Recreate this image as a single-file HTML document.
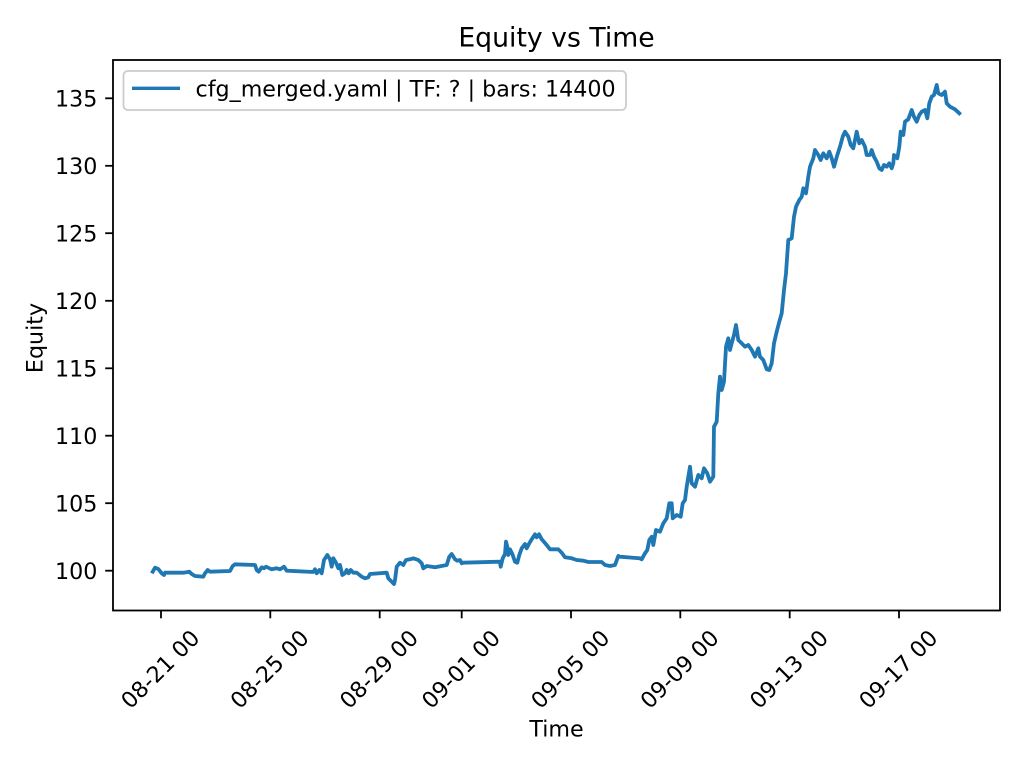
<!DOCTYPE html>
<html>
<head>
<meta charset="utf-8">
<style>
html,body{margin:0;padding:0;background:#fff;}
svg{display:block;}
text{font-family:"DejaVu Sans","Liberation Sans",sans-serif;fill:#000;}
</style>
</head>
<body>
<svg width="1024" height="768" viewBox="0 0 1024 768" xmlns="http://www.w3.org/2000/svg">
<rect x="0" y="0" width="1024" height="768" fill="#fff"/>

<!-- series -->
<polyline fill="none" stroke="#1f77b4" stroke-width="3.8" stroke-linejoin="round" stroke-linecap="square" points="
152.7,571.7 155,567.7 158.3,569 161.7,573.3 164,575 165,572.7 183.3,572.7 189.3,571.7 191.7,574 195,576 203.3,576.7 205,573.3 207.7,570 210,571.7 230,571 232.7,566 235,564.3 255,565 256.7,570 258.7,571.7 261.7,567.3 264,568.3 266,566.7 271.7,569.3 276.7,568.3 280,569.3 284,566.7 286.7,570.7 313.3,572 315,569.3 316.7,573.3 319.3,570 321.7,573.3 324,560 327.3,555 330,559.3 331.7,566.7 333.3,558.3 336,562.7 338.3,568.3 340,565 342.3,575 345,573.3 346.7,570 348.7,573.3 350.7,570 353.3,572.7 356.7,572.7 361.7,576.7 365,578.3 368.3,577.3 370,574 386.7,572.7 388.3,578.3 391.7,581.7 394,584 395,580 396.7,566.7 400,562.7 403.3,565 406,560 410,559.3 413.3,558.3 418.3,560 421.7,563.3 423.3,568.3 426.7,566 435,567.3 446.7,565 449.3,556.7 451.7,554 455,559.3 457.3,560.7 460,560 461.7,563.3 463.3,562.7 500,561.7 500.7,566.7 502.7,558.3 505,554 506,541.7 507.3,546.7 508.3,555 510,549.3 512.7,555 515,561.7 517.3,562.7 519.3,555 521.7,548.3 525,544 526.7,548.3 529.3,543.3 531.7,539.3 535,534.3 536.7,537.3 539,534.3 541.7,539.3 546.7,545 550,549.3 558.3,549.3 561.7,552.7 565,557.3 571.7,558.3 576.7,560 583.3,560.7 588.3,562 601.7,562 605,565 610,566 615,565 618.3,556 620,556.7 640,558.3 641.7,559.3 645,553.3 647.3,550 649.3,540 651.7,536.7 653.3,545 656,530 660,531.7 663.3,523.3 666.7,518.3 669.3,503.3 671.7,503.3 672.7,518.3 676.7,515 680.7,516.7 682.7,503.3 685,500 686.7,486.7 690,466.7 691.7,483.3 695,486.7 698.3,475 701.7,478.3 704,468.3 707.3,473.3 710,481.7 713.3,476.7 714,426.7 716.7,421.7 718.3,393.3 720,376.7 721.7,390 724,381.7 726,346.7 728.3,338.3 730,350 731.7,343.3 734,335 736,325 738.3,340 741.7,343.3 745,346.7 748.3,345 751.7,350 755,356.7 758.3,348.3 760,356.7 763.3,360 766.7,369.3 769.3,370 771.7,363.3 774,343.3 776.7,331.7 779.3,321.7 781.7,313.3 784,290 786,273.3 788.3,240 791.7,238.3 794,216.7 796,206.7 799.3,200 801.7,196.7 803.3,188.3 806,193.3 808.3,176.7 810,166.7 813.3,158.3 815,150 818.3,155 820.7,160 823.3,153.3 826.7,158.3 829.3,151.7 831.7,158.3 834,166.7 837.3,155 840,146.7 842.7,136.7 845,131.7 848.3,136.7 850.7,145 853.3,148.3 856.7,131.7 859.3,143.3 861.7,140 865,146.7 866.7,155 870,155 871.7,150 874,156.7 876.7,161.7 879.3,168.3 881.7,170 884,165 886.7,166.7 889.3,163.3 891.7,168.3 893.3,163.3 894,155 897.3,158.3 899.3,146.7 900.7,131.7 903.3,135 905,121.7 908.3,119.3 911.7,110 914,116.7 916.7,121.7 919.3,115 921.7,111.7 925,110 927.3,118.3 929.3,103.3 931.7,96.7 934,95 936.7,85 938.3,93.3 941.7,95 945,91.7 946.7,103.3 950,106.7 955,109.3 959.3,113.3"/>

<!-- axes frame -->
<rect x="113" y="60" width="887" height="550.5" fill="none" stroke="#000" stroke-width="1.8"/>

<!-- y ticks -->
<g stroke="#000" stroke-width="1.8">
<line x1="105.2" y1="570.7" x2="113" y2="570.7"/>
<line x1="105.2" y1="503.2" x2="113" y2="503.2"/>
<line x1="105.2" y1="435.7" x2="113" y2="435.7"/>
<line x1="105.2" y1="368.3" x2="113" y2="368.3"/>
<line x1="105.2" y1="300.8" x2="113" y2="300.8"/>
<line x1="105.2" y1="233.2" x2="113" y2="233.2"/>
<line x1="105.2" y1="165.8" x2="113" y2="165.8"/>
<line x1="105.2" y1="98.3" x2="113" y2="98.3"/>
</g>
<g font-size="22.2" text-anchor="end">
<text x="97.4" y="578.8">100</text>
<text x="97.4" y="511.3">105</text>
<text x="97.4" y="443.8">110</text>
<text x="97.4" y="376.4">115</text>
<text x="97.4" y="308.9">120</text>
<text x="97.4" y="241.3">125</text>
<text x="97.4" y="173.9">130</text>
<text x="97.4" y="106.4">135</text>
</g>

<!-- x ticks -->
<g stroke="#000" stroke-width="1.8">
<line x1="161" y1="610.5" x2="161" y2="618.3"/>
<line x1="270.3" y1="610.5" x2="270.3" y2="618.3"/>
<line x1="379.7" y1="610.5" x2="379.7" y2="618.3"/>
<line x1="461.7" y1="610.5" x2="461.7" y2="618.3"/>
<line x1="571" y1="610.5" x2="571" y2="618.3"/>
<line x1="680.3" y1="610.5" x2="680.3" y2="618.3"/>
<line x1="789.7" y1="610.5" x2="789.7" y2="618.3"/>
<line x1="899" y1="610.5" x2="899" y2="618.3"/>
</g>
<g font-size="22.2" text-anchor="middle">
<text transform="translate(160,669) rotate(-45)" dy="8">08-21 00</text>
<text transform="translate(269.3,669) rotate(-45)" dy="8">08-25 00</text>
<text transform="translate(378.7,669) rotate(-45)" dy="8">08-29 00</text>
<text transform="translate(460.7,669) rotate(-45)" dy="8">09-01 00</text>
<text transform="translate(570,669) rotate(-45)" dy="8">09-05 00</text>
<text transform="translate(679.3,669) rotate(-45)" dy="8">09-09 00</text>
<text transform="translate(788.7,669) rotate(-45)" dy="8">09-13 00</text>
<text transform="translate(898,669) rotate(-45)" dy="8">09-17 00</text>
</g>

<!-- labels -->
<text x="556.5" y="46.7" font-size="26.7" text-anchor="middle">Equity vs Time</text>
<text x="556.5" y="736.7" font-size="22.2" text-anchor="middle">Time</text>
<text transform="translate(42.5,338) rotate(-90)" font-size="22.2" text-anchor="middle">Equity</text>

<!-- legend -->
<rect x="123.5" y="71" width="502.5" height="39" rx="4.4" ry="4.4" fill="#fff" fill-opacity="0.8" stroke="#cccccc" stroke-width="1.8"/>
<line x1="132" y1="88.3" x2="180" y2="88.3" stroke="#1f77b4" stroke-width="3.4"/>
<text x="195.5" y="96.5" font-size="22.2">cfg_merged.yaml | TF: ? | bars: 14400</text>
</svg>
</body>
</html>
